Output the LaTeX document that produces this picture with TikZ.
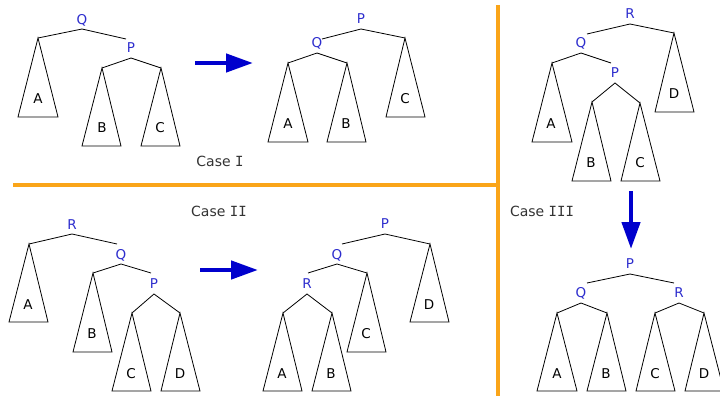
\documentclass[tikz,border=0pt]{standalone}
\usepackage{fontspec}
\setmainfont{DejaVu Sans}
\newfontfamily\slabI{DejaVu Sans Mono}
\usetikzlibrary{arrows.meta}
\definecolor{lblblue}{RGB}{45,45,205}
\definecolor{arrblue}{RGB}{0,0,205}
\definecolor{sepcol}{RGB}{250,165,25}
\tikzset{
  lbl/.style={text=lblblue, font=\fontsize{13.5}{13.5}\selectfont, inner sep=1pt},
  sub/.style={font=\fontsize{13.5}{13.5}\selectfont, inner sep=1pt},
  cas/.style={text=black!80, font=\fontsize{14}{14}\selectfont, inner sep=1pt},
  tri/.style={line width=0.8pt, line join=miter},
  edge/.style={line width=0.8pt},
  arr/.style={arrblue, line width=4.5pt, -{Triangle[length=27pt,width=18pt]}},
  sepline/.style={sepcol, line width=3.5pt}
}
\begin{document}
\begin{tikzpicture}[x=1pt,y=-1pt]
\useasboundingbox (0,0) rectangle (720,396);

% separators
\coordinate (s0) at (13,185);
\coordinate (s1) at (498,185);
\coordinate (s2) at (498,5);
\coordinate (s3) at (498,396);
\draw[sepline] (s0) -- (s1);
\draw[sepline] (s2) -- (s3);

% Case I, before
\node[lbl] (aQ) at (82,20) {Q};
\coordinate (aQv) at (82,29);
\coordinate (aQe) at (126,39);
\node[lbl] (aP) at (131,48) {P};
\coordinate (aPv) at (131,58);
\coordinate (aA) at (38,38);
\coordinate (aB) at (102,68);
\coordinate (aC) at (161,68);
\draw[tri] (aA) -- +(-20,79) -- +(20,79) -- cycle;
\draw[tri] (aB) -- +(-20,78) -- +(19,78) -- cycle;
\draw[tri] (aC) -- +(-20,78) -- +(19,78) -- cycle;
\node[sub] (aAt) at (38,99) {A};
\node[sub] (aBt) at (102,128) {B};
\node[sub] (aCt) at (160,128) {C};
\draw[edge] (aA) -- (aQv) -- (aQe);
\draw[edge] (aB) -- (aPv) -- (aC);

% Case I, after
\node[lbl] (bP) at (361,19) {P};
\coordinate (bPv) at (361,29);
\coordinate (bPe) at (322,39);
\node[lbl] (bQ) at (317,43) {Q};
\coordinate (bQv) at (317,53);
\coordinate (bA) at (288,63);
\coordinate (bB) at (347,63);
\coordinate (bC) at (405,38);
\draw[tri] (bA) -- +(-20,79) -- +(20,79) -- cycle;
\draw[tri] (bB) -- +(-20,79) -- +(19,79) -- cycle;
\draw[tri] (bC) -- +(-19,79) -- +(20,79) -- cycle;
\node[sub] (bAt) at (288,124) {A};
\node[sub] (bBt) at (346,124) {B};
\node[sub] (bCt) at (405,99) {C};
\draw[edge] (bPe) -- (bPv) -- (bC);
\draw[edge] (bA) -- (bQv) -- (bB);

\coordinate (r1) at (195,63);
\coordinate (r2) at (253,63);
\draw[arr] (r1) -- (r2);
\node[cas] (c1) at (220,161) {Case {\slabI I}};

% Case II, before
\node[lbl] (cR) at (72,225) {R};
\coordinate (cRv) at (72,234);
\coordinate (cRe) at (117,244);
\node[lbl] (cQ) at (121,255) {Q};
\coordinate (cQv) at (121,264);
\coordinate (cQe) at (151,273);
\node[lbl] (cP) at (154,284) {P};
\coordinate (cPv) at (154,294);
\coordinate (cA) at (29,244);
\coordinate (cB) at (93,273);
\coordinate (cC) at (132,313);
\coordinate (cD) at (180,313);
\draw[tri] (cA) -- +(-20,78) -- +(19,78) -- cycle;
\draw[tri] (cB) -- +(-20,79) -- +(19,79) -- cycle;
\draw[tri] (cC) -- +(-20,78) -- +(19,78) -- cycle;
\draw[tri] (cD) -- +(-19,78) -- +(20,78) -- cycle;
\node[sub] (cAt) at (28,305) {A};
\node[sub] (cBt) at (92,334) {B};
\node[sub] (cCt) at (131,374) {C};
\node[sub] (cDt) at (180,374) {D};
\draw[edge] (cA) -- (cRv) -- (cRe);
\draw[edge] (cB) -- (cQv) -- (cQe);
\draw[edge] (cC) -- (cPv) -- (cD);

% Case II, after
\node[lbl] (dP) at (385,224) {P};
\coordinate (dPv) at (385,234);
\coordinate (dPe) at (342,244);
\node[lbl] (dQ) at (337,255) {Q};
\coordinate (dQv) at (337,264);
\coordinate (dQe) at (308,273);
\node[lbl] (dR) at (307,284) {R};
\coordinate (dRv) at (307,294);
\coordinate (dA) at (283,313);
\coordinate (dB) at (332,313);
\coordinate (dC) at (367,273);
\coordinate (dD) at (430,244);
\draw[tri] (dA) -- +(-20,78) -- +(19,78) -- cycle;
\draw[tri] (dB) -- +(-20,78) -- +(19,78) -- cycle;
\draw[tri] (dC) -- +(-20,79) -- +(19,79) -- cycle;
\draw[tri] (dD) -- +(-20,78) -- +(19,78) -- cycle;
\node[sub] (dAt) at (282,374) {A};
\node[sub] (dBt) at (331,374) {B};
\node[sub] (dCt) at (366,334) {C};
\node[sub] (dDt) at (429,305) {D};
\draw[edge] (dPe) -- (dPv) -- (dD);
\draw[edge] (dQe) -- (dQv) -- (dC);
\draw[edge] (dA) -- (dRv) -- (dB);

\coordinate (r3) at (200,270);
\coordinate (r4) at (258,270);
\draw[arr] (r3) -- (r4);
\node[cas] (c2) at (219,211) {Case {\slabI II}};

% Case III, before
\node[lbl] (eR) at (630,14) {R};
\coordinate (eRv) at (630,24);
\coordinate (eRe) at (587,34);
\node[lbl] (eQ) at (581,43) {Q};
\coordinate (eQv) at (581,53);
\coordinate (eQe) at (611,63);
\node[lbl] (eP) at (615,73) {P};
\coordinate (ePv) at (615,83);
\coordinate (eA) at (552,63);
\coordinate (eB) at (592,102);
\coordinate (eC) at (640,103);
\coordinate (eD) at (674,33);
\draw[tri] (eA) -- +(-20,79) -- +(20,79) -- cycle;
\draw[tri] (eB) -- +(-20,79) -- +(19,79) -- cycle;
\draw[tri] (eC) -- +(-19,78) -- +(20,78) -- cycle;
\draw[tri] (eD) -- +(-19,79) -- +(20,79) -- cycle;
\node[sub] (eAt) at (551,124) {A};
\node[sub] (eBt) at (591,163) {B};
\node[sub] (eCt) at (640,163) {C};
\node[sub] (eDt) at (674,94) {D};
\draw[edge] (eRe) -- (eRv) -- (eD);
\draw[edge] (eA) -- (eQv) -- (eQe);
\draw[edge] (eB) -- (ePv) -- (eC);

% Case III, after
\node[lbl] (fP) at (630,264) {P};
\coordinate (fPv) at (630,274);
\coordinate (fPl) at (587,283);
\coordinate (fPr) at (674,283);
\node[lbl] (fQ) at (581,293) {Q};
\coordinate (fQv) at (581,303);
\node[lbl] (fR) at (679,293) {R};
\coordinate (fRv) at (679,303);
\coordinate (fA) at (557,313);
\coordinate (fB) at (607,313);
\coordinate (fC) at (655,313);
\coordinate (fD) at (704,313);
\draw[tri] (fA) -- +(-20,78) -- +(20,78) -- cycle;
\draw[tri] (fB) -- +(-20,78) -- +(19,78) -- cycle;
\draw[tri] (fC) -- +(-19,78) -- +(20,78) -- cycle;
\draw[tri] (fD) -- +(-19,78) -- +(20,78) -- cycle;
\node[sub] (fAt) at (557,374) {A};
\node[sub] (fBt) at (606,374) {B};
\node[sub] (fCt) at (655,374) {C};
\node[sub] (fDt) at (704,374) {D};
\draw[edge] (fPl) -- (fPv) -- (fPr);
\draw[edge] (fA) -- (fQv) -- (fB);
\draw[edge] (fC) -- (fRv) -- (fD);

\coordinate (r5) at (631,191);
\coordinate (r6) at (631,249);
\draw[arr] (r5) -- (r6);
\node[cas] (c3) at (542,211) {Case {\slabI III}};
\end{tikzpicture}
\end{document}
